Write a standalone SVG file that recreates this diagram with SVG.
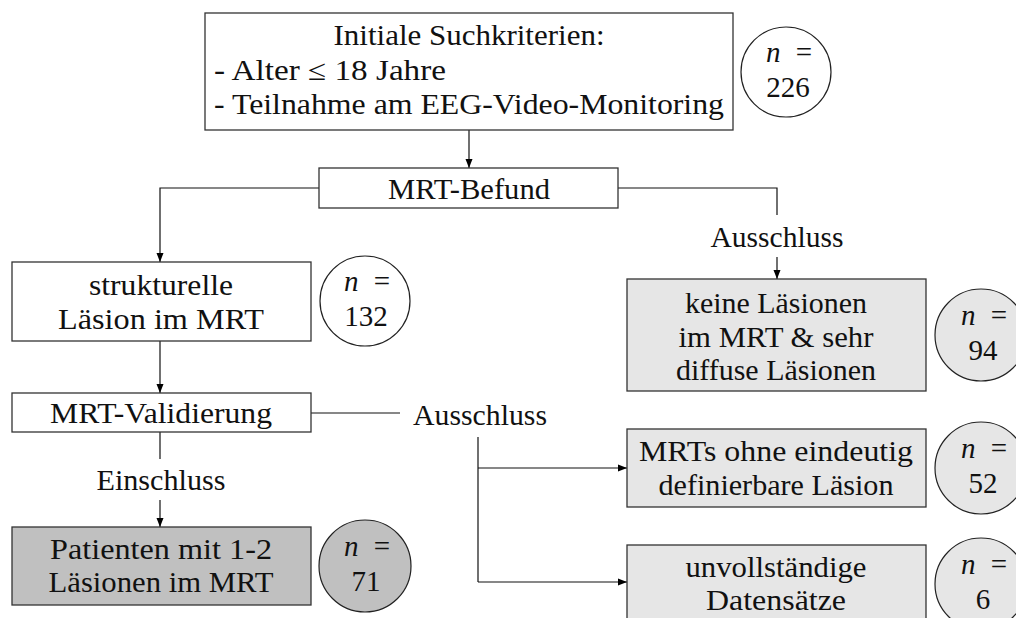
<svg xmlns="http://www.w3.org/2000/svg" width="1016" height="618" viewBox="0 0 1016 618">
<defs>
<marker id="arr" markerWidth="9" markerHeight="8" refX="9" refY="4" orient="auto" markerUnits="userSpaceOnUse"><path d="M0,0.5 L9,4 L0,7.5 z" fill="#000"/></marker>
<style>
text{font-family:"Liberation Serif","Times New Roman",serif;font-size:29px;fill:#111}
.c{text-anchor:middle}
.box{stroke:#333;stroke-width:1.3}
.w{fill:#fff}
.g1{fill:#e6e6e6}
.g2{fill:#c0c0c0}
.circ{stroke:#222;stroke-width:1.2}
.ln{fill:none;stroke:#111;stroke-width:1.2}
.a{marker-end:url(#arr)}
.it{font-style:italic}
</style>
</defs>
<rect width="1016" height="618" fill="#fff"/>
<g id="connectors">
<path class="ln a" d="M469,130 V168"/>
<path class="ln a" d="M319,188 H160 V262"/>
<path class="ln" d="M618,188 H777 V215"/>
<path class="ln a" d="M777,257 V279"/>
<path class="ln a" d="M160,341 V393"/>
<path class="ln" d="M311,413 H400"/>
<path class="ln" d="M478,437 V582"/>
<path class="ln a" d="M478,468 H627"/>
<path class="ln a" d="M478,582 H627"/>
<path class="ln" d="M160,432 V459"/>
<path class="ln a" d="M160,500 V527"/>
<text class="c" x="777" y="247" textLength="133" lengthAdjust="spacingAndGlyphs">Ausschluss</text>
<text class="c" x="480" y="425" textLength="134" lengthAdjust="spacingAndGlyphs">Ausschluss</text>
<text class="c" x="161" y="490" textLength="129" lengthAdjust="spacingAndGlyphs">Einschluss</text>
</g>
<g id="start">
<rect class="box w" x="205" y="13" width="528" height="117"/>
<text class="c" x="469" y="45" textLength="271" lengthAdjust="spacingAndGlyphs">Initiale Suchkriterien:</text>
<text x="214" y="80" textLength="232" lengthAdjust="spacingAndGlyphs">- Alter ≤ 18 Jahre</text>
<text x="214" y="114" textLength="510" lengthAdjust="spacingAndGlyphs">- Teilnahme am EEG-Video-Monitoring</text>
</g>
<g id="n226">
<circle class="circ w" cx="786" cy="72" r="45"/>
<text class="c" x="789" y="62" textLength="46" lengthAdjust="spacing"><tspan class="it">n</tspan> =</text>
<text class="c" x="788" y="97">226</text>
</g>
<g id="befund">
<rect class="box w" x="319" y="168" width="299" height="40"/>
<text class="c" x="469" y="199" textLength="162" lengthAdjust="spacingAndGlyphs">MRT-Befund</text>
</g>
<g id="strukturell">
<rect class="box w" x="12" y="262" width="299" height="79"/>
<text class="c" x="161" y="295" textLength="144" lengthAdjust="spacingAndGlyphs">strukturelle</text>
<text class="c" x="161" y="329" textLength="206" lengthAdjust="spacingAndGlyphs">Läsion im MRT</text>
</g>
<g id="n132">
<circle class="circ w" cx="365" cy="301" r="45"/>
<text class="c" x="367" y="291" textLength="46" lengthAdjust="spacing"><tspan class="it">n</tspan> =</text>
<text class="c" x="366" y="326">132</text>
</g>
<g id="keine">
<rect class="box g1" x="627" y="279" width="299" height="112"/>
<text class="c" x="776" y="313" textLength="182" lengthAdjust="spacingAndGlyphs">keine Läsionen</text>
<text class="c" x="776" y="347" textLength="195" lengthAdjust="spacingAndGlyphs">im MRT &amp; sehr</text>
<text class="c" x="776" y="380" textLength="200" lengthAdjust="spacingAndGlyphs">diffuse Läsionen</text>
</g>
<g id="n94">
<circle class="circ g1" cx="981" cy="335" r="46"/>
<text class="c" x="984" y="325" textLength="46" lengthAdjust="spacing"><tspan class="it">n</tspan> =</text>
<text class="c" x="983" y="360">94</text>
</g>
<g id="validierung">
<rect class="box w" x="12" y="393" width="299" height="39"/>
<text class="c" x="161" y="423" textLength="222" lengthAdjust="spacingAndGlyphs">MRT-Validierung</text>
</g>
<g id="ohne">
<rect class="box g1" x="627" y="429" width="299" height="78"/>
<text class="c" x="776" y="461" textLength="274" lengthAdjust="spacingAndGlyphs">MRTs ohne eindeutig</text>
<text class="c" x="776" y="495" textLength="235" lengthAdjust="spacingAndGlyphs">definierbare Läsion</text>
</g>
<g id="n52">
<circle class="circ g1" cx="981" cy="468" r="46"/>
<text class="c" x="984" y="458" textLength="46" lengthAdjust="spacing"><tspan class="it">n</tspan> =</text>
<text class="c" x="983" y="493">52</text>
</g>
<g id="patienten">
<rect class="box g2" x="12" y="527" width="299" height="78"/>
<text class="c" x="161" y="559" textLength="222" lengthAdjust="spacingAndGlyphs">Patienten mit 1-2</text>
<text class="c" x="161" y="592" textLength="225" lengthAdjust="spacingAndGlyphs">Läsionen im MRT</text>
</g>
<g id="n71">
<circle class="circ g2" cx="365" cy="566" r="46"/>
<text class="c" x="367" y="556" textLength="46" lengthAdjust="spacing"><tspan class="it">n</tspan> =</text>
<text class="c" x="366" y="591">71</text>
</g>
<g id="unvollstaendig">
<rect class="box g1" x="627" y="545" width="299" height="78"/>
<text class="c" x="776" y="577" textLength="181" lengthAdjust="spacingAndGlyphs">unvollständige</text>
<text class="c" x="776" y="610" textLength="140" lengthAdjust="spacingAndGlyphs">Datensätze</text>
</g>
<g id="n6">
<circle class="circ g1" cx="981" cy="584" r="46"/>
<text class="c" x="984" y="574" textLength="46" lengthAdjust="spacing"><tspan class="it">n</tspan> =</text>
<text class="c" x="983" y="609">6</text>
</g>
</svg>
